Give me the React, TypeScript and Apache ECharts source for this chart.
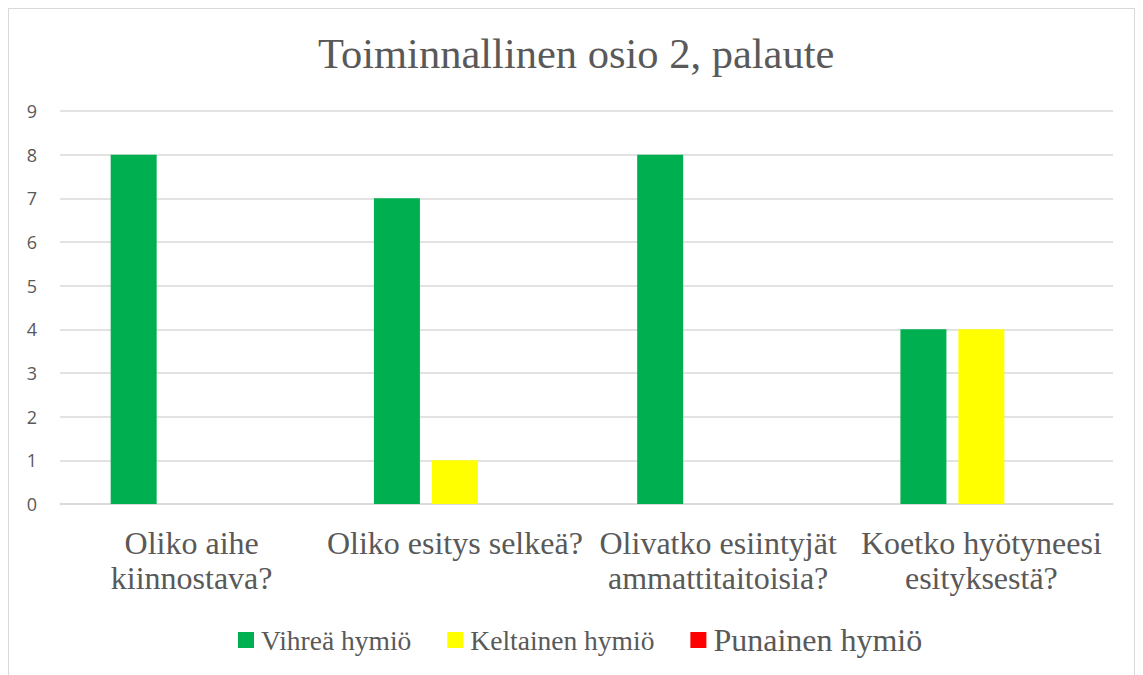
import React, { useEffect, useRef } from "react";
import * as echarts from "echarts";

const titleText = "Toiminnallinen osio 2, palaute";
const categories = [
  "Oliko aihe\nkiinnostava?",
  "Oliko esitys selkeä?",
  "Olivatko esiintyjät\nammattitaitoisia?",
  "Koetko hyötyneesi\nesityksestä?",
];
const seriesNames = ["Vihreä hymiö", "Keltainen hymiö", "Punainen hymiö"];
const greenValues = [8, 7, 8, 4];
const yellowValues = [0, 1, 0, 4];
const redValues = [0, 0, 0, 0];
const colors = ["#00B050", "#FFFF00", "#FF0000"];
const legendFontSizes = [27.5, 27.5, 32];

export default function App() {
  const ref = useRef<HTMLDivElement>(null);
  useEffect(() => {
    if (!ref.current) return;
    const chart = echarts.init(ref.current, null, { renderer: "svg" });
    const serif = "Liberation Serif";
    const grey = "#595959";
    const values = [greenValues, yellowValues, redValues];
    chart.setOption({
      animation: false,
      backgroundColor: "#ffffff",
      textStyle: { fontFamily: serif },
      title: {
        text: titleText,
        left: 304,
        top: 18,
        textStyle: { fontFamily: serif, fontSize: 42.5, fontWeight: "normal", color: grey },
      },
      legend: {
        left: 224,
        top: 610,
        icon: "rect",
        itemWidth: 16,
        itemHeight: 16,
        itemGap: 36,
        data: seriesNames.map((n, i) => ({
          name: n,
          textStyle: { fontSize: legendFontSizes[i], fontFamily: serif, color: grey },
        })),
        textStyle: { fontFamily: serif, color: grey, padding: [0, 0, 0, 2] },
      },
      grid: { left: 51, top: 102, width: 1053, height: 393, containLabel: false },
      xAxis: {
        type: "category",
        data: categories,
        axisLine: { show: true, lineStyle: { color: "#d9d9d9", width: 1.5 } },
        axisTick: { show: false },
        axisLabel: {
          interval: 0,
          margin: 21,
          fontFamily: serif,
          fontSize: 32,
          lineHeight: 35,
          color: grey,
        },
      },
      yAxis: {
        type: "value",
        min: 0,
        max: 9,
        interval: 1,
        axisLine: { show: false },
        axisTick: { show: false },
        splitLine: { lineStyle: { color: "#d9d9d9", width: 1.5 } },
        axisLabel: {
          margin: 23,
          fontFamily: "Open Sans",
          fontSize: 18,
          color: grey,
        },
      },
      series: seriesNames.map((n, i) => ({
        name: n,
        type: "bar",
        data: values[i],
        barWidth: 46,
        barGap: "26%",
        itemStyle: { color: colors[i] },
      })),
    });
    return () => chart.dispose();
  }, []);
  return (
    <div
      style={{
        position: "fixed",
        left: 0,
        top: 0,
        width: 1143,
        height: 675,
        overflow: "hidden",
        background: "#fff",
      }}
    >
      <div
        ref={ref}
        style={{
          position: "absolute",
          left: 8,
          top: 8,
          width: 1125,
          height: 680,
          border: "1px solid #d9d9d9",
        }}
      />
    </div>
  );
}
